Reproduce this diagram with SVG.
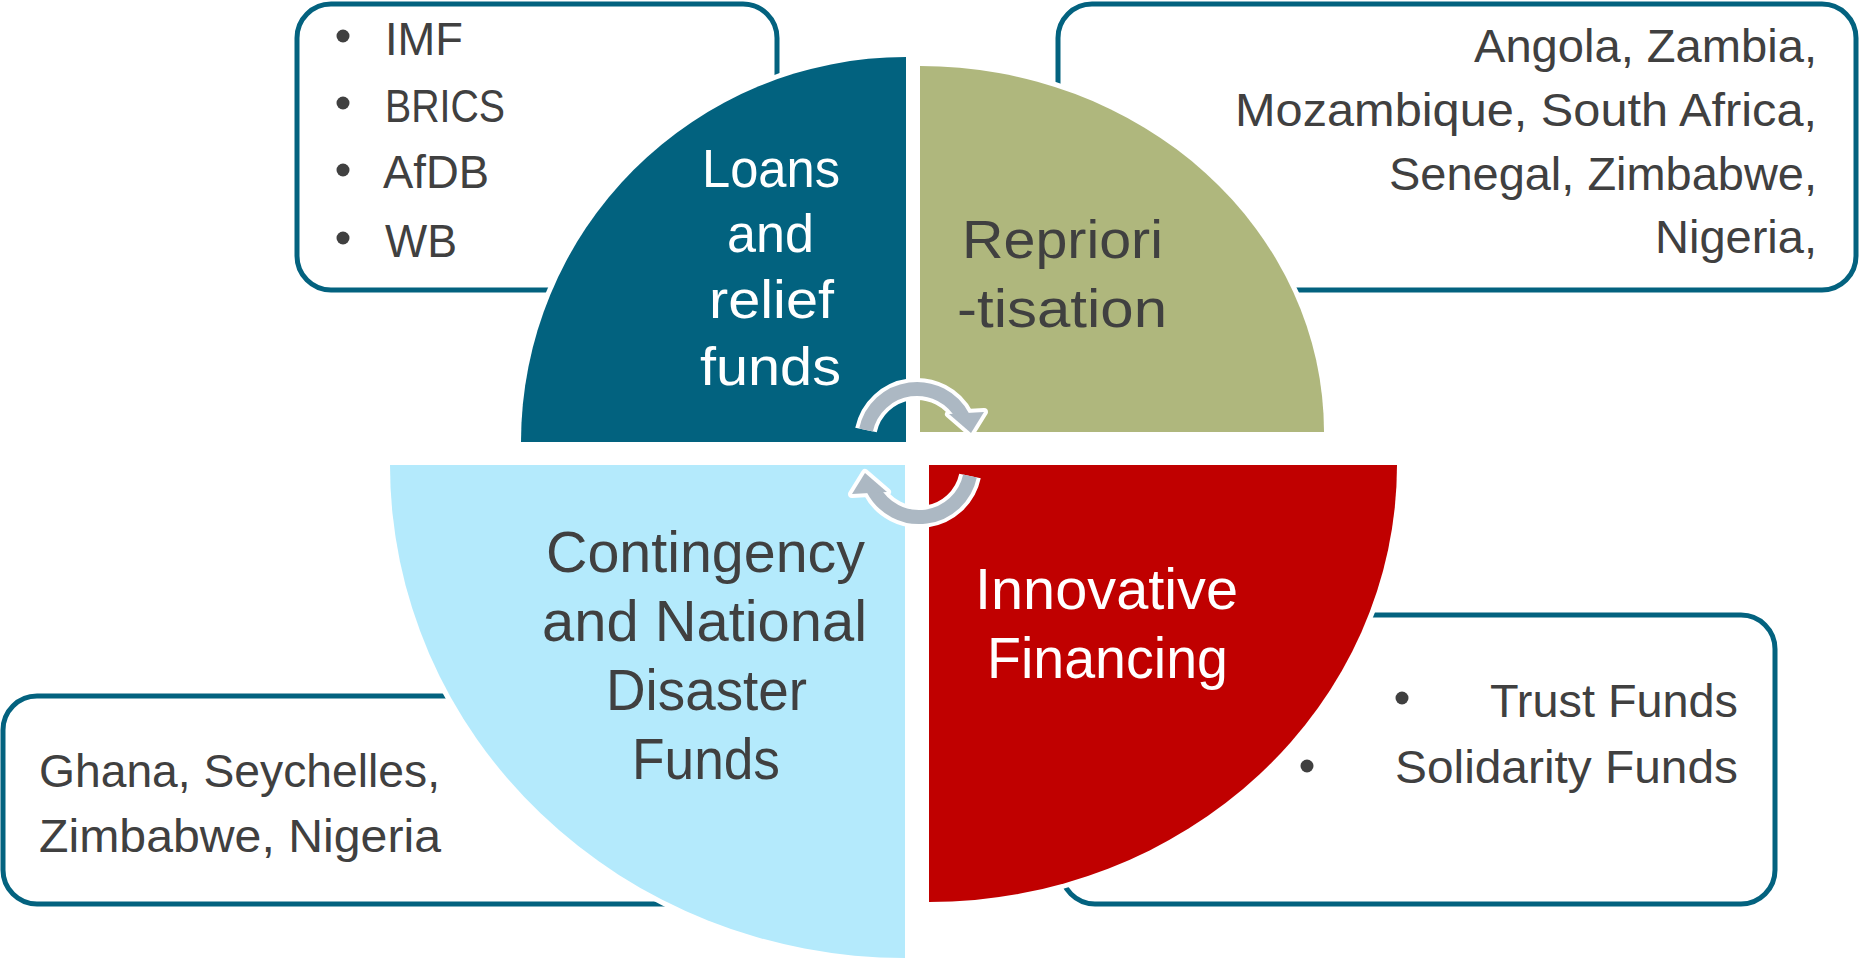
<svg xmlns="http://www.w3.org/2000/svg" xmlns:xlink="http://www.w3.org/1999/xlink" width="1860" height="960" viewBox="0 0 1860 960">
<style>
.box{fill:#ffffff;stroke:#03627F;stroke-width:5}
.q{stroke:#ffffff;stroke-width:10;paint-order:stroke}
.t{font-family:'Liberation Sans Narrow','Liberation Sans',Arial,sans-serif;fill:#404040;font-size:46px}
.qt{font-size:53px}
.qb{font-size:57px}
.w{fill:#ffffff}
.bul{fill:#404040}
.aw{fill:none;stroke:#ffffff;stroke-width:22}
.ag{fill:none;stroke:#ACB8C3;stroke-width:14}
.hw{fill:#ffffff;stroke:#ffffff;stroke-width:8;stroke-linejoin:round}
.hg{fill:#ACB8C3}
</style>
<defs>
<g id="cyc">
<path class="aw" d="M866,430 A52,52 0 0 1 963,417"/>
<polygon class="hw" points="949,414 984,412 971,433"/>
<path class="ag" d="M866,430 A52,52 0 0 1 963,417"/>
<polygon class="hg" points="949,414 984,412 971,433"/>
</g>
</defs>
<g id="box-lenders">
<rect class="box" x="297" y="4" width="480" height="286" rx="34"/>
</g>
<g id="box-reprioritisation">
<rect class="box" x="1058" y="4" width="798" height="286" rx="34"/>
</g>
<g id="box-contingency">
<rect class="box" x="3" y="696" width="777" height="208" rx="34"/>
</g>
<g id="box-innovative">
<rect class="box" x="1061" y="615" width="714" height="289" rx="34"/>
</g>
<g id="q-loans">
<path class="q" fill="#02627F" d="M906,442 L521,442 A385,385 0 0 1 906,57 Z"/>
</g>
<g id="q-repriori">
<path class="q" fill="#AFB77D" d="M920,432 L920,66 A404,366 0 0 1 1324,432 Z"/>
</g>
<g id="q-contingency">
<path class="q" fill="#B4EAFC" d="M905,465 L390,465 A515,493 0 0 0 905,958 Z"/>
</g>
<g id="q-innovative">
<path class="q" fill="#C00000" d="M929,465 L1397,465 A468,437 0 0 1 929,902 Z"/>
</g>
<g id="connectors">
<use xlink:href="#cyc" href="#cyc"/>
<use xlink:href="#cyc" href="#cyc" transform="rotate(180 918 453)"/>
</g>
<g id="text-lenders">
<circle class="bul" cx="343" cy="36" r="6.5"/>
<circle class="bul" cx="343" cy="103" r="6.5"/>
<circle class="bul" cx="343" cy="170" r="6.5"/>
<circle class="bul" cx="343" cy="238" r="6.5"/>
<text class="t" x="385" y="55" textLength="78" lengthAdjust="spacingAndGlyphs">IMF</text>
<text class="t" x="385" y="122" textLength="120" lengthAdjust="spacingAndGlyphs">BRICS</text>
<text class="t" x="383" y="188" textLength="106" lengthAdjust="spacingAndGlyphs">AfDB</text>
<text class="t" x="385" y="257" textLength="72" lengthAdjust="spacingAndGlyphs">WB</text>
</g>
<g id="text-countries-top">
<text class="t" x="1474" y="62" textLength="343" lengthAdjust="spacingAndGlyphs">Angola, Zambia,</text>
<text class="t" x="1235" y="126" textLength="582" lengthAdjust="spacingAndGlyphs">Mozambique, South Africa,</text>
<text class="t" x="1389" y="190" textLength="428" lengthAdjust="spacingAndGlyphs">Senegal, Zimbabwe,</text>
<text class="t" x="1655" y="253" textLength="162" lengthAdjust="spacingAndGlyphs">Nigeria,</text>
</g>
<g id="text-countries-bottom">
<text class="t" x="39" y="787" textLength="401" lengthAdjust="spacingAndGlyphs">Ghana, Seychelles,</text>
<text class="t" x="39" y="852" textLength="402" lengthAdjust="spacingAndGlyphs">Zimbabwe, Nigeria</text>
</g>
<g id="text-funds">
<circle class="bul" cx="1402" cy="698" r="6.5"/>
<circle class="bul" cx="1307" cy="766" r="6.5"/>
<text class="t" x="1490" y="717" textLength="248" lengthAdjust="spacingAndGlyphs">Trust Funds</text>
<text class="t" x="1395" y="783" textLength="343" lengthAdjust="spacingAndGlyphs">Solidarity Funds</text>
</g>
<g id="label-loans">
<text class="t qt w" x="702" y="187" textLength="138" lengthAdjust="spacingAndGlyphs">Loans</text>
<text class="t qt w" x="727" y="252" textLength="87" lengthAdjust="spacingAndGlyphs">and</text>
<text class="t qt w" x="709" y="318" textLength="125" lengthAdjust="spacingAndGlyphs">relief</text>
<text class="t qt w" x="700" y="385" textLength="141" lengthAdjust="spacingAndGlyphs">funds</text>
</g>
<g id="label-repriori">
<text class="t qt" x="962" y="258" textLength="201" lengthAdjust="spacingAndGlyphs">Repriori</text>
<text class="t qt" x="957" y="327" textLength="210" lengthAdjust="spacingAndGlyphs">-tisation</text>
</g>
<g id="label-contingency">
<text class="t qb" x="546" y="572" textLength="319" lengthAdjust="spacingAndGlyphs">Contingency</text>
<text class="t qb" x="542" y="641" textLength="325" lengthAdjust="spacingAndGlyphs">and National</text>
<text class="t qb" x="606" y="710" textLength="201" lengthAdjust="spacingAndGlyphs">Disaster</text>
<text class="t qb" x="632" y="779" textLength="148" lengthAdjust="spacingAndGlyphs">Funds</text>
</g>
<g id="label-innovative">
<text class="t qb w" x="975" y="609" textLength="263" lengthAdjust="spacingAndGlyphs">Innovative</text>
<text class="t qb w" x="987" y="678" textLength="241" lengthAdjust="spacingAndGlyphs">Financing</text>
</g>
</svg>
